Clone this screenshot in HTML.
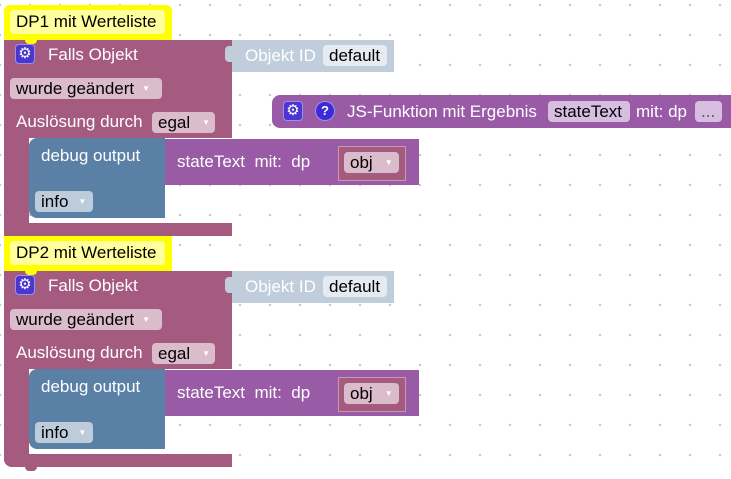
<!DOCTYPE html>
<html><head><meta charset="utf-8"><style>
*{margin:0;padding:0;box-sizing:border-box}
body{width:731px;height:479px;background:#fff;position:relative;overflow:hidden;font-family:"Liberation Sans",Arial,sans-serif;font-size:17px}
.a{position:absolute}
.grid{position:absolute;left:0;top:0;width:731px;height:479px;background-image:radial-gradient(circle,#c8c8c8 1.1px,transparent 1.4px);background-size:30px 30px;background-position:-15px -10px}
.t{position:absolute;white-space:nowrap;line-height:20px}
.w{color:#fff}
.k{color:#000}
.fld{position:absolute;border-radius:4px;line-height:21px;padding-left:6px;color:#000;white-space:nowrap}
.arr{font-size:8px;color:#fff;vertical-align:3px;margin-left:8px}
.gear{position:absolute;width:20px;height:20px;border-radius:4px;background:#4b36cf;border:1px solid #9a8ff0;color:#fff;font-size:15px;line-height:18px;text-align:center}
.q{position:absolute;width:20px;height:20px;border-radius:50%;background:#3b2ad6;border:1px solid #9a8ff0;color:#fff;font-size:13px;font-weight:bold;line-height:18px;text-align:center}
</style></head><body>
<div class="grid"></div>

<!-- JS function block -->
<div class="a" style="left:272px;top:95px;width:459px;height:33px;background:#995ba5;border-radius:8px 0 0 8px"></div>
<div class="gear" style="left:283px;top:101px">&#9881;</div>
<div class="q" style="left:315px;top:101px">?</div>
<div class="t w" style="left:347px;top:102px">JS-Funktion mit Ergebnis</div>
<div class="fld" style="left:548px;top:101px;width:82px;background:#d7bde0">stateText</div>
<div class="t w" style="left:636px;top:102px">mit: dp</div>
<div class="fld" style="left:695px;top:101px;width:27px;background:#d7bde0;color:#555">...</div>

<!-- BLOCK 1 -->
<div class="a" style="left:4px;top:5px;width:168px;height:35px;background:#ffff00;border-radius:6px 6px 0 0"></div>
<div class="a" style="left:10px;top:10px;width:155px;height:24px;background:#ffff9e;border-radius:4px"></div>
<div class="t k" style="left:16px;top:12px">DP1 mit Werteliste</div>
<div class="a" style="left:4px;top:40px;width:228px;height:98px;background:#a55b80"></div>
<div class="a" style="left:4px;top:138px;width:25px;height:98px;background:#a55b80"></div>
<div class="a" style="left:4px;top:223px;width:228px;height:13px;background:#a55b80"></div>
<div class="a" style="left:25px;top:40px;width:12px;height:4px;background:#ffff00;border-radius:0 0 6px 6px"></div>
<div class="gear" style="left:15px;top:44px">&#9881;</div>
<div class="t w" style="left:48px;top:45px">Falls Objekt</div>
<div class="a" style="left:232px;top:40px;width:162px;height:32px;background:#c0cddb"></div>
<div class="a" style="left:225px;top:46px;width:8px;height:16px;background:#c0cddb;border-radius:4px 0 0 4px"></div>
<div class="t w" style="left:245px;top:46px">Objekt ID</div>
<div class="fld" style="left:323px;top:45px;width:64px;background:#e6ebf1">default</div>
<div class="fld" style="left:10px;top:78px;width:152px;background:#dbbccb">wurde geändert<span class="arr">▼</span></div>
<div class="t w" style="left:16px;top:112px">Auslösung durch</div>
<div class="fld" style="left:152px;top:112px;width:63px;background:#dbbccb">egal<span class="arr" style="margin-left:12px">▼</span></div>
<div class="a" style="left:29px;top:138px;width:136px;height:80px;background:#5b80a5;border-radius:8px 0 0 8px"></div>
<div class="t w" style="left:41px;top:146px">debug output</div>
<div class="fld" style="left:35px;top:191px;width:58px;background:#bdccdb">info<span class="arr" style="margin-left:10px">▼</span></div>
<div class="a" style="left:165px;top:139px;width:254px;height:46px;background:#995ba5"></div>
<div class="t w" style="left:177px;top:152px">stateText&nbsp; mit:&nbsp; dp</div>
<div class="a" style="left:338px;top:146px;width:68px;height:35px;background:#a55b80;border:1px solid #c79ab0"></div>
<div class="fld" style="left:344px;top:152px;width:55px;background:#dbbccb">obj<span class="arr" style="margin-left:12px">▼</span></div>

<!-- BLOCK 2 -->
<div class="a" style="left:4px;top:236px;width:168px;height:35px;background:#ffff00"></div>
<div class="a" style="left:10px;top:241px;width:155px;height:24px;background:#ffff9e;border-radius:4px"></div>
<div class="t k" style="left:16px;top:243px">DP2 mit Werteliste</div>
<div class="a" style="left:4px;top:271px;width:228px;height:98px;background:#a55b80"></div>
<div class="a" style="left:4px;top:369px;width:25px;height:98px;background:#a55b80;border-radius:0 0 0 8px"></div>
<div class="a" style="left:4px;top:454px;width:228px;height:13px;background:#a55b80;border-radius:0 0 0 8px"></div>
<div class="a" style="left:25px;top:467px;width:12px;height:4px;background:#a55b80;border-radius:0 0 6px 6px"></div>
<div class="a" style="left:25px;top:271px;width:12px;height:4px;background:#ffff00;border-radius:0 0 6px 6px"></div>
<div class="gear" style="left:15px;top:275px">&#9881;</div>
<div class="t w" style="left:48px;top:276px">Falls Objekt</div>
<div class="a" style="left:232px;top:271px;width:162px;height:32px;background:#c0cddb"></div>
<div class="a" style="left:225px;top:277px;width:8px;height:16px;background:#c0cddb;border-radius:4px 0 0 4px"></div>
<div class="t w" style="left:245px;top:277px">Objekt ID</div>
<div class="fld" style="left:323px;top:276px;width:64px;background:#e6ebf1">default</div>
<div class="fld" style="left:10px;top:309px;width:152px;background:#dbbccb">wurde geändert<span class="arr">▼</span></div>
<div class="t w" style="left:16px;top:343px">Auslösung durch</div>
<div class="fld" style="left:152px;top:343px;width:63px;background:#dbbccb">egal<span class="arr" style="margin-left:12px">▼</span></div>
<div class="a" style="left:29px;top:369px;width:136px;height:80px;background:#5b80a5;border-radius:8px 0 0 8px"></div>
<div class="t w" style="left:41px;top:377px">debug output</div>
<div class="fld" style="left:35px;top:422px;width:58px;background:#bdccdb">info<span class="arr" style="margin-left:10px">▼</span></div>
<div class="a" style="left:165px;top:370px;width:254px;height:46px;background:#995ba5"></div>
<div class="t w" style="left:177px;top:383px">stateText&nbsp; mit:&nbsp; dp</div>
<div class="a" style="left:338px;top:377px;width:68px;height:35px;background:#a55b80;border:1px solid #c79ab0"></div>
<div class="fld" style="left:344px;top:383px;width:55px;background:#dbbccb">obj<span class="arr" style="margin-left:12px">▼</span></div>
</body></html>
